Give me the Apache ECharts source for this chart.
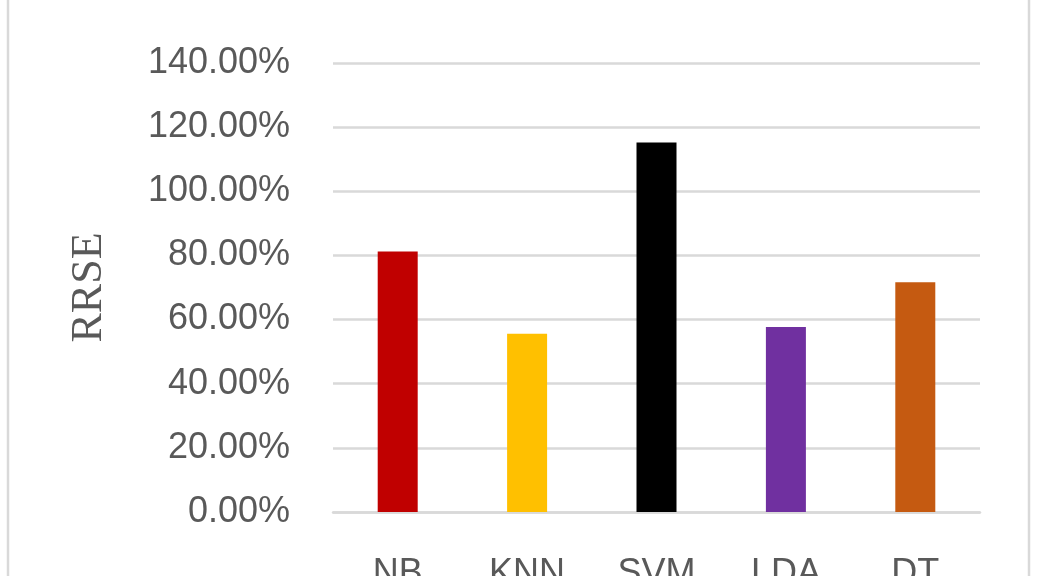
<!DOCTYPE html>
<html>
<head>
<meta charset="utf-8">
<script src="https://cdn.jsdelivr.net/npm/echarts@6/dist/echarts.min.js"></script>
<style>html,body{margin:0;padding:0;background:#fff;}#c{width:1038px;height:576px;}</style>
</head>
<body>
<div id="c"></div>
<script>
const categories = ['NB', 'KNN', 'SVM', 'LDA', 'DT'];
const rrseValues = [81.2, 55.6, 115.2, 57.7, 71.6];
const barColors = ['#C00000', '#FFC000', '#000000', '#7030A0', '#C55A11'];
const yTicks = { min: 0, max: 140, interval: 20 };
const yAxisName = 'RRSE';

const chart = echarts.init(document.getElementById('c'), null, { renderer: 'canvas' });
chart.setOption({
  animation: false,
  backgroundColor: '#ffffff',
  graphic: [{
    type: 'rect',
    shape: { x: 8, y: -10, width: 1021, height: 600 },
    style: { fill: 'none', stroke: '#d9d9d9', lineWidth: 2.5 },
    silent: true
  }],
  grid: { left: 333, right: 58, top: 63, bottom: 64, containLabel: false, outerBoundsMode: 'none' },
  xAxis: {
    type: 'category',
    data: categories,
    axisTick: { show: false },
    axisLine: { show: true, lineStyle: { color: '#d9d9d9', width: 2.5 } },
    axisLabel: { color: '#595959', fontFamily: 'Liberation Sans', fontSize: 36, margin: 44 }
  },
  yAxis: {
    type: 'value',
    min: yTicks.min, max: yTicks.max, interval: yTicks.interval,
    name: yAxisName,
    nameLocation: 'middle',
    nameGap: 222,
    nameTextStyle: { color: '#595959', fontFamily: 'Liberation Serif', fontSize: 44 },
    axisLine: { show: false },
    axisTick: { show: false },
    splitLine: { lineStyle: { color: '#d9d9d9', width: 2.5 } },
    axisLabel: {
      color: '#595959', fontFamily: 'Liberation Sans', fontSize: 36, margin: 43,
      formatter: v => v.toFixed(2) + '%'
    }
  },
  series: [{
    type: 'bar',
    barWidth: 40,
    data: rrseValues.map((v, i) => ({ value: v, itemStyle: { color: barColors[i] } }))
  }]
});
</script>
</body>
</html>
